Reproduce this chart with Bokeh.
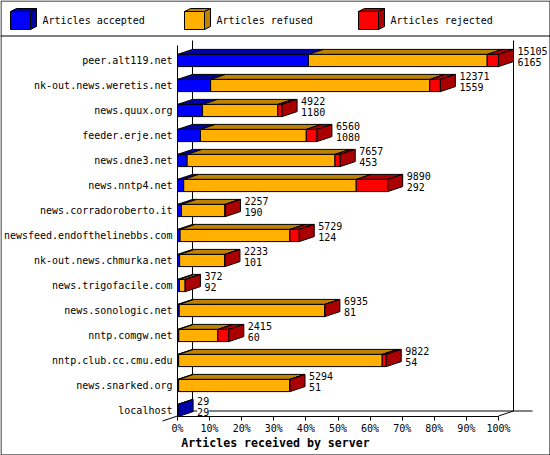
from bokeh.plotting import figure
from bokeh.models import Range1d, LinearAxis, FixedTicker, PrintfTickFormatter, ColumnDataSource
from bokeh.embed import file_html
from bokeh.resources import INLINE
from bokeh.core.properties import value

# Articles received by server (innreport style)
servers = [
    "peer.alt119.net", "nk-out.news.weretis.net", "news.quux.org", "feeder.erje.net",
    "news.dne3.net", "news.nntp4.net", "news.corradoroberto.it",
    "newsfeed.endofthelinebbs.com", "nk-out.news.chmurka.net", "news.trigofacile.com",
    "news.sonologic.net", "nntp.comgw.net", "nntp.club.cc.cmu.edu", "news.snarked.org",
    "localhost",
]
received = [15105, 12371, 4922, 6560, 7657, 9890, 2257, 5729, 2233, 372, 6935, 2415, 9822, 5294, 29]
accepted = [6165, 1559, 1180, 1080, 453, 292, 190, 124, 101, 92, 81, 60, 54, 51, 29]
refused = [8408, 10312, 3542, 4980, 6954, 8118, 2037, 5165, 2127, 270, 6849, 1837, 9578, 5238, 0]
rejected = [532, 500, 200, 500, 250, 1480, 30, 440, 5, 10, 5, 518, 190, 5, 0]

series_names = ["Articles accepted", "Articles refused", "Articles rejected"]
face_colors = ["#0000ff", "#ffb000", "#ff0000"]
shade_colors = ["#0000a8", "#bf8200", "#aa0000"]
pct_ticks = list(range(0, 101, 10))

W, H = 550, 455
X0_PX, PX_PER_PCT = 177.0, 3.21      # 0 % position and pixels per percent
ROW0_PX, PX_PER_ROW = 410.0, 25.0    # centre of the lowest row and row pitch
TEXT_LIFT = 4.0                      # baseline correction for text glyphs, px


def xd(px):
    return (px - X0_PX) / PX_PER_PCT


def yd(py):
    return (ROW0_PX - py) / PX_PER_ROW


def yt(py):
    # y position for a text baseline given in pixels
    return yd(py - TEXT_LIFT)


DX = 15 / PX_PER_PCT      # depth of the 3D effect, horizontally
DY = 5 / PX_PER_ROW       # depth of the 3D effect, vertically
HH = 6.1 / PX_PER_ROW     # half height of a bar
FONT = value("DejaVu Sans Mono")

p = figure(width=W, height=H, x_range=Range1d(xd(0), xd(W)), y_range=Range1d(yd(H), yd(0)),
           output_backend="svg", toolbar_location=None, min_border=0,
           x_axis_type=None, y_axis_type=None)
p.outline_line_color = None
p.background_fill_color = "white"
p.border_fill_color = "white"

# outer frame and legend separator
p.quad(left=[xd(0.5)], right=[xd(W - 0.5)], bottom=[yd(H - 0.5)], top=[yd(0.5)],
       fill_color=None, line_color="black", line_width=1)
p.segment(x0=[xd(0)], y0=[yd(35.5)], x1=[xd(W)], y1=[yd(35.5)], line_color="black", line_width=1)

# 3D walls and floor
floor_front = yd(415.5)
floor_back = floor_front + DY
wall_top = yd(40)
p.segment(
    x0=[DX, 100 + DX, DX, 100, -DX],
    y0=[floor_back, floor_back, floor_back, floor_front, floor_front - DY],
    x1=[DX, 100 + DX, xd(532), 100 + DX, DX],
    y1=[wall_top, wall_top, floor_back, floor_back, floor_back],
    line_color="black", line_width=1,
)

# bars
scale = 100.0 / max(received)
fr = dict(left=[], right=[], bottom=[], top=[], color=[])
tp = dict(xs=[], ys=[], color=[])
sd = dict(xs=[], ys=[], color=[])
lab = dict(x=[], y=[], text=[])
n = len(servers)
lift = TEXT_LIFT / PX_PER_ROW
for k in range(n):
    y = n - 1 - k
    x = 0.0
    last = shade_colors[0]
    for cnt, face, shade in zip((accepted[k], refused[k], rejected[k]), face_colors, shade_colors):
        if cnt == 0:
            continue
        w = cnt * scale
        fr["left"].append(x); fr["right"].append(x + w)
        fr["bottom"].append(y - HH); fr["top"].append(y + HH); fr["color"].append(face)
        tp["xs"].append([x, x + w, x + w + DX, x + DX])
        tp["ys"].append([y + HH, y + HH, y + HH + DY, y + HH + DY])
        tp["color"].append(shade)
        x += w
        last = shade
    sd["xs"].append([x, x, x + DX, x + DX])
    sd["ys"].append([y - HH, y + HH, y + HH + DY, y - HH + DY])
    sd["color"].append(last)
    lx = x + DX + 4 / PX_PER_PCT
    lab["x"] += [lx, lx]
    lab["y"] += [y + 0.24 + lift, y - 0.22 + lift]
    lab["text"] += [str(received[k]), str(accepted[k])]

p.patches("xs", "ys", source=ColumnDataSource(tp), fill_color="color", line_color="black", line_width=1)
p.quad(left="left", right="right", bottom="bottom", top="top", source=ColumnDataSource(fr),
       fill_color="color", line_color="black", line_width=1)
p.patches("xs", "ys", source=ColumnDataSource(sd), fill_color="color", line_color="black", line_width=1)

p.text(x="x", y="y", text="text", source=ColumnDataSource(lab), text_font=FONT,
       text_font_size="10px", text_color="black", text_baseline="alphabetic", text_align="left",
       background_fill_color="white")

# axes
xaxis = LinearAxis(fixed_location=floor_front, bounds=(0, 100),
                   ticker=FixedTicker(ticks=pct_ticks), formatter=PrintfTickFormatter(format="%d%%"))
xaxis.major_tick_out = 4
xaxis.major_tick_in = 0
xaxis.minor_tick_out = 0
xaxis.minor_tick_in = 0
xaxis.major_label_standoff = 3
xaxis.major_label_text_font = "DejaVu Sans Mono"
xaxis.major_label_text_font_size = "10px"
xaxis.major_label_text_color = "black"
xaxis.axis_line_color = "black"
xaxis.major_tick_line_color = "black"
p.add_layout(xaxis, "below")

row_ticks = list(range(n))
yaxis = LinearAxis(fixed_location=0, bounds=(floor_front, yd(45)),
                   ticker=FixedTicker(ticks=row_ticks),
                   major_label_overrides={n - 1 - k: s for k, s in enumerate(servers)})
yaxis.major_tick_out = 0
yaxis.major_tick_in = 0
yaxis.minor_tick_out = 0
yaxis.minor_tick_in = 0
yaxis.major_label_standoff = 5
yaxis.major_label_text_font = "DejaVu Sans Mono"
yaxis.major_label_text_font_size = "10px"
yaxis.major_label_text_color = "black"
yaxis.axis_line_color = "black"
p.add_layout(yaxis, "left")

p.text(x=[xd(275)], y=[yt(446.5)], text=["Articles received by server"], text_font=FONT,
       text_font_size="11.6px", text_font_style="bold", text_color="black",
       text_align="center", text_baseline="alphabetic")

# legend with small cubes
leg_x = [10, 184, 358]
cube_w, cube_h, cube_dx, cube_dy = 20, 18, 6, 3
cube_top = 11
lg_front = dict(left=[], right=[], bottom=[], top=[], color=[])
lg_shade = dict(xs=[], ys=[], color=[])
for lx, face, shade in zip(leg_x, face_colors, shade_colors):
    x0, x1 = lx, lx + cube_w
    y0, y1 = cube_top + cube_h, cube_top
    lg_front["left"].append(xd(x0)); lg_front["right"].append(xd(x1))
    lg_front["bottom"].append(yd(y0)); lg_front["top"].append(yd(y1)); lg_front["color"].append(face)
    lg_shade["xs"].append([xd(x0), xd(x1), xd(x1 + cube_dx), xd(x0 + cube_dx)])
    lg_shade["ys"].append([yd(y1), yd(y1), yd(y1 - cube_dy), yd(y1 - cube_dy)])
    lg_shade["color"].append(shade)
    lg_shade["xs"].append([xd(x1), xd(x1), xd(x1 + cube_dx), xd(x1 + cube_dx)])
    lg_shade["ys"].append([yd(y0), yd(y1), yd(y1 - cube_dy), yd(y0 - cube_dy)])
    lg_shade["color"].append(shade)
p.patches("xs", "ys", source=ColumnDataSource(lg_shade), fill_color="color", line_color="black", line_width=1)
p.quad(left="left", right="right", bottom="bottom", top="top", source=ColumnDataSource(lg_front),
       fill_color="color", line_color="black", line_width=1)
p.text(x=[xd(lx + 32) for lx in leg_x], y=[yt(23.5)] * 3, text=series_names, text_font=FONT,
       text_font_size="10px", text_color="black", text_baseline="alphabetic", text_align="left")

open("out.html", "w").write(file_html(p, INLINE))
